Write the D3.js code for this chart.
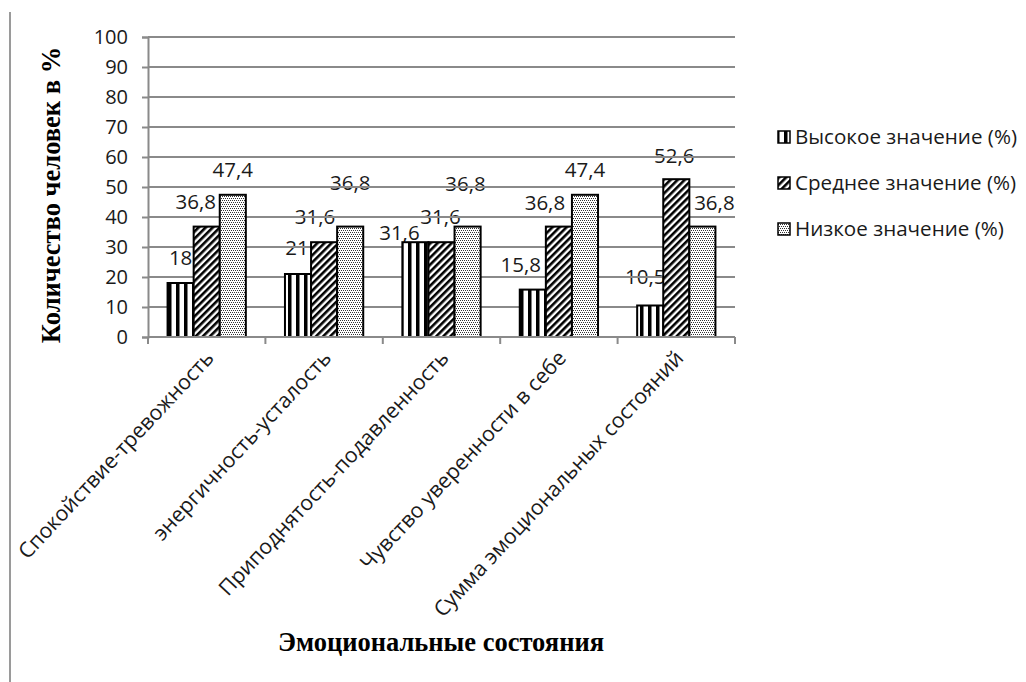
<!DOCTYPE html>
<html><head><meta charset="utf-8">
<script src="https://cdn.jsdelivr.net/npm/d3@7"></script>
<style>
html,body{margin:0;padding:0;background:#fff;}
svg{display:block;}
</style></head>
<body><svg id="c" width="1026" height="682"></svg>
<script>
// ---- data ----
const categories = ["Спокойствие-тревожность","энергичность-усталость","Приподнятость-подавленность","Чувство уверенности в себе","Сумма эмоциональных состояний"];
const seriesNames = ["Высокое значение (%)","Среднее значение (%)","Низкое значение (%)"];
const high = [18, 21, 31.6, 15.8, 10.5];
const mid = [36.8, 31.6, 31.6, 36.8, 52.6];
const low = [47.4, 36.8, 36.8, 47.4, 36.8];
const yTicks = [0,10,20,30,40,50,60,70,80,90,100];
const yTitle = "Количество человек в %";
const xTitle = "Эмоциональные состояния";

// ---- layout (label nudges: [dx, dy] per series, per category) ----
const labelNudge = [
  [[0,0],[-1,-1],[-16,16],[-12,0],[-5,-4]],
  [[-11,0],[-9,0],[-1,0],[-14,1],[-2,2]],
  [[0,0],[0,-19],[-2,-18],[0,0],[12,1]]
];
const series = [high, mid, low];
const sans = "'Open Sans', sans-serif";
const serif = "'Liberation Serif', 'Times New Roman', serif";
const fsTick = 20, fsLab = 20.5, fsCat = 21.2, fsLeg = 20.6, fsTitle = 26.5;

const svg = d3.select("#c");
const L = 148, R = 735, T = 37, B = 337;

const x0 = d3.scaleBand().domain(categories).range([L, R]).paddingInner(1/3).paddingOuter(1/6);
const x1 = d3.scaleBand().domain(seriesNames).range([0, x0.bandwidth()]);
const y = d3.scaleLinear().domain([0, 100]).range([B, T]);

// patterns
const defs = svg.append("defs");
const p1 = defs.append("pattern").attr("id","pHigh").attr("patternUnits","userSpaceOnUse").attr("width",8).attr("height",8);
p1.append("rect").attr("width",8).attr("height",8).attr("fill","#fff");
p1.append("rect").attr("x",0).attr("width",3.5).attr("height",8).attr("fill","#000");
const p2 = defs.append("pattern").attr("id","pMid").attr("patternUnits","userSpaceOnUse").attr("width",5).attr("height",5).attr("patternTransform","rotate(45)");
p2.append("rect").attr("width",5).attr("height",5).attr("fill","#fff");
p2.append("rect").attr("width",2.6).attr("height",5).attr("fill","#000");
const p3 = defs.append("pattern").attr("id","pLow").attr("patternUnits","userSpaceOnUse").attr("width",4).attr("height",4);
p3.append("rect").attr("width",4).attr("height",4).attr("fill","#fff");
[[0,0],[2,0],[1,2],[3,2]].forEach(([a,b])=>p3.append("rect").attr("x",a).attr("y",b).attr("width",1).attr("height",1).attr("fill","#333"));
const fills = ["url(#pHigh)","url(#pMid)","url(#pLow)"];

// outer left border line
svg.append("line").attr("x1",10).attr("x2",10).attr("y1",12).attr("y2",682).attr("stroke","#9a9a9a").attr("stroke-width",2);

// data labels (drawn first, under gridlines and bars)
const fmt = v => String(v).replace(".", ",");
const gLab = svg.append("g");
series.forEach((vals, si) => {
  gLab.selectAll(null).data(vals).enter().append("text")
    .attr("x", (d,i) => x0(categories[i]) + x1(seriesNames[si]) + x1.bandwidth()/2 + labelNudge[si][i][0])
    .attr("y", (d,i) => y(d) - 25 + labelNudge[si][i][1])
    .attr("dy", "0.35em")
    .attr("text-anchor","middle")
    .style("font-family", sans).style("font-size", fsLab+"px").attr("fill","#1a1a1a")
    .text(d => fmt(d));
});

// gridlines
svg.append("g").selectAll("line").data(yTicks.filter(t=>t>0)).enter().append("line")
  .attr("x1", L).attr("x2", R).attr("y1", d=>y(d)).attr("y2", d=>y(d))
  .attr("stroke","#8a8a8a").attr("stroke-width",2);

// bars
series.forEach((vals, si) => {
  svg.append("g").selectAll("rect").data(vals).enter().append("rect")
    .attr("x", (d,i) => x0(categories[i]) + x1(seriesNames[si]))
    .attr("y", d => y(d))
    .attr("width", x1.bandwidth())
    .attr("height", d => B - y(d))
    .attr("fill", fills[si]).attr("stroke","#000").attr("stroke-width",2);
});

// y axis
const ya = svg.append("g").attr("transform",`translate(${L},0)`)
  .call(d3.axisLeft(y).tickValues(yTicks).tickSize(6).tickPadding(14).tickFormat(d3.format("d")));
ya.select(".domain").attr("stroke","#8a8a8a").attr("stroke-width",2);
ya.selectAll(".tick line").attr("stroke","#8a8a8a").attr("stroke-width",2);
ya.selectAll(".tick text").style("font-family",sans).style("font-size",fsTick+"px").attr("fill","#1a1a1a");

// x axis line and boundary ticks
svg.append("line").attr("x1",L).attr("x2",R).attr("y1",B).attr("y2",B).attr("stroke","#8a8a8a").attr("stroke-width",2);
const bounds = d3.range(categories.length+1).map(i => L + i*x0.step());
svg.append("g").selectAll("line").data(bounds).enter().append("line")
  .attr("x1",d=>d).attr("x2",d=>d).attr("y1",B).attr("y2",B+7).attr("stroke","#8a8a8a").attr("stroke-width",2);

// category labels
svg.append("g").selectAll("text").data(categories).enter().append("text")
  .attr("transform", d => `translate(${x0(d)+x0.bandwidth()/2+3},${B+17}) rotate(-47)`)
  .attr("text-anchor","end").attr("dy","0.35em")
  .style("font-family",sans).style("font-size",fsCat+"px").attr("fill","#1a1a1a")
  .text(d=>d);

// axis titles
svg.append("text").attr("transform",`translate(51,${(T+B)/2+8}) rotate(-90)`)
  .attr("text-anchor","middle").attr("dy","0.35em")
  .style("font-family",serif).style("font-weight","bold").style("font-size",fsTitle+"px")
  .text(yTitle);
svg.append("text").attr("x",441).attr("y",642).attr("dy","0.35em").attr("text-anchor","middle")
  .style("font-family",serif).style("font-weight","bold").style("font-size",fsTitle+"px")
  .text(xTitle);

// legend
const lg = svg.append("g");
seriesNames.forEach((n, i) => {
  const yy = 137 + i*46;
  lg.append("rect").attr("x",778).attr("y",yy-6).attr("width",12).attr("height",12)
    .attr("fill",fills[i]).attr("stroke","#000").attr("stroke-width",1.5);
  lg.append("text").attr("x",795).attr("y",yy).attr("dy","0.35em")
    .style("font-family",sans).style("font-size",fsLeg+"px").attr("fill","#1a1a1a").text(n);
});
</script></body></html>
